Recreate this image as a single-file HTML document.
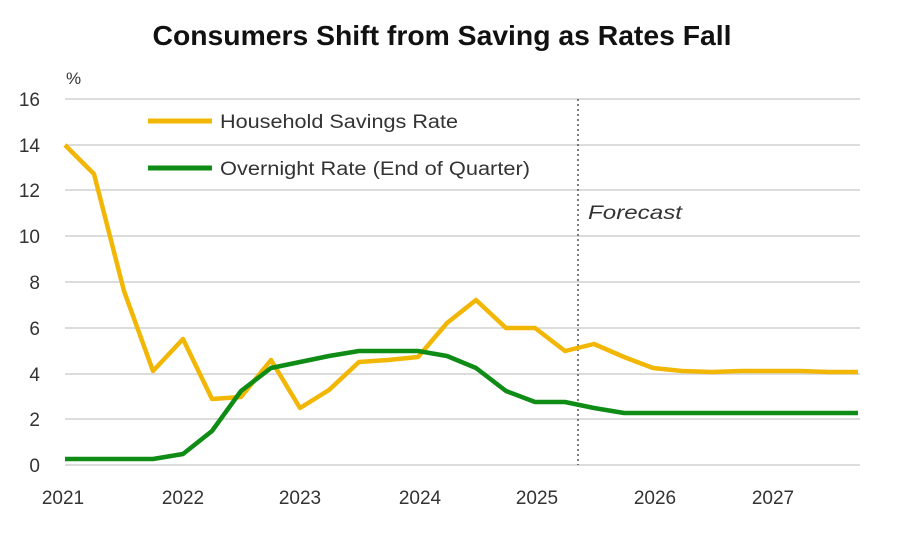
<!DOCTYPE html>
<html><head><meta charset="utf-8"><style>
body{margin:0;background:#fff;}
svg text{font-family:"Liberation Sans",sans-serif;fill:#333;}
</style></head><body>
<svg width="900" height="530" viewBox="0 0 900 530" xmlns="http://www.w3.org/2000/svg">
<rect width="900" height="530" fill="#fff"/>
<text x="442" y="45" text-anchor="middle" textLength="579" lengthAdjust="spacingAndGlyphs" style="font-family:'Liberation Sans Narrow','Liberation Sans',sans-serif;font-weight:bold;font-size:28px;fill:#111">Consumers Shift from Saving as Rates Fall</text>
<text x="66" y="84" font-size="17">%</text>
<g stroke="#dcdcdc" stroke-width="2">
<line x1="65" x2="860" y1="99" y2="99"/><line x1="65" x2="860" y1="145" y2="145"/>
<line x1="65" x2="860" y1="190" y2="190"/><line x1="65" x2="860" y1="236" y2="236"/>
<line x1="65" x2="860" y1="282" y2="282"/><line x1="65" x2="860" y1="328" y2="328"/>
<line x1="65" x2="860" y1="374" y2="374"/><line x1="65" x2="860" y1="419" y2="419"/>
<line x1="65" x2="860" y1="465" y2="465"/>
</g>
<g font-size="19" text-anchor="end">
<text x="40" y="106">16</text><text x="40" y="152">14</text><text x="40" y="197">12</text>
<text x="40" y="243">10</text><text x="40" y="289">8</text><text x="40" y="335">6</text>
<text x="40" y="381">4</text><text x="40" y="426">2</text><text x="40" y="472">0</text>
</g>
<g font-size="19" text-anchor="middle">
<text x="63" y="504">2021</text><text x="183" y="504">2022</text><text x="300" y="504">2023</text>
<text x="420" y="504">2024</text><text x="537" y="504">2025</text><text x="655" y="504">2026</text>
<text x="773" y="504">2027</text>
</g>
<line x1="578" x2="578" y1="99" y2="465" stroke="#555" stroke-width="1.5" stroke-dasharray="2,3"/>
<text x="588" y="219" font-size="19" font-style="italic" textLength="94" lengthAdjust="spacingAndGlyphs">Forecast</text>
<line x1="148" x2="212" y1="121" y2="121" stroke="#F2B705" stroke-width="5"/>
<text x="220" y="128" font-size="19" textLength="238" lengthAdjust="spacingAndGlyphs">Household Savings Rate</text>
<line x1="148" x2="212" y1="168" y2="168" stroke="#0E8C16" stroke-width="5"/>
<text x="220" y="175" font-size="19" textLength="310" lengthAdjust="spacingAndGlyphs">Overnight Rate (End of Quarter)</text>
<polyline fill="none" stroke="#F2B705" stroke-width="4.5" stroke-linejoin="round"
points="65,145 94,174 124,291 153,371 183,339 212,399 241,397 271,360 300,408 329,390 359,362 388,360 418,357 447,323 476,300 506,328 535,328 565,351 594,344 624,357 653,368 682,371 712,372 741,371 770,371 800,371 829,372 858,372"/>
<polyline fill="none" stroke="#0E8C16" stroke-width="4.5" stroke-linejoin="round"
points="65,459 94,459 124,459 153,459 183,454 212,431 241,391 271,368 300,362 329,356 359,351 388,351 418,351 447,356 476,368 506,391 535,402 565,402 594,408 624,413 653,413 682,413 712,413 741,413 770,413 800,413 829,413 858,413"/>
</svg>
</body></html>
